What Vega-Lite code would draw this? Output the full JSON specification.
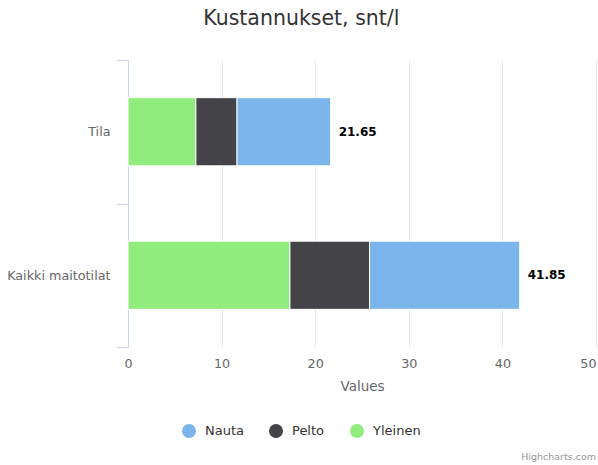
{
  "$schema": "https://vega.github.io/schema/vega-lite/v6.json",
  "autosize": "none",
  "width": 468,
  "height": 287,
  "padding": {"left": 128, "top": 60, "right": 2, "bottom": 118},
  "background": "#ffffff",
  "title": {
    "text": "Kustannukset, snt/l",
    "font": "DejaVu Sans",
    "fontSize": 20.5,
    "fontWeight": "normal",
    "color": "#333333",
    "anchor": "middle",
    "frame": "bounds",
    "offset": 25
  },
  "config": {
    "view": {"stroke": null},
    "font": "DejaVu Sans"
  },
  "data": {
    "values": [
      {"category": "Tila", "series": "Yleinen", "value": 7.25},
      {"category": "Tila", "series": "Pelto", "value": 4.4},
      {"category": "Tila", "series": "Nauta", "value": 10.0},
      {"category": "Kaikki maitotilat", "series": "Yleinen", "value": 17.3},
      {"category": "Kaikki maitotilat", "series": "Pelto", "value": 8.5},
      {"category": "Kaikki maitotilat", "series": "Nauta", "value": 16.05}
    ]
  },
  "encoding": {
    "y": {
      "field": "category",
      "type": "nominal",
      "sort": ["Tila", "Kaikki maitotilat"],
      "scale": {"paddingInner": 0, "paddingOuter": 0},
      "axis": {
        "title": null,
        "domainColor": "#ccd6eb",
        "tickColor": "#ccd6eb",
        "tickSize": 11,
        "tickBand": "extent",
        "labelColor": "#666666",
        "labelFontSize": 12.75,
        "labelPadding": 7,
        "grid": false
      }
    }
  },
  "layer": [
    {
      "mark": {"type": "bar", "stroke": "#ffffff", "strokeWidth": 1, "height": {"band": 0.475}},
      "encoding": {
        "x": {
          "field": "value",
          "type": "quantitative",
          "aggregate": "sum",
          "stack": "zero",
          "scale": {"domain": [0, 50], "nice": false},
          "axis": {
            "title": "Values",
            "titleColor": "#666666",
            "titleFontSize": 13.5,
            "titleFontWeight": "normal",
            "titlePadding": 10,
            "values": [0, 10, 20, 30, 40, 50],
            "labelFlush": false,
            "labelAlign": {"condition": {"test": "datum.value == 50", "value": "right"}, "value": "center"},
            "domain": false,
            "ticks": false,
            "gridColor": "#e6e6e6",
            "labelColor": "#666666",
            "labelFontSize": 12.75,
            "labelPadding": 10
          }
        },
        "color": {
          "field": "series",
          "type": "nominal",
          "scale": {
            "domain": ["Nauta", "Pelto", "Yleinen"],
            "range": ["#7cb5ec", "#434348", "#90ed7d"]
          },
          "legend": {
            "title": null,
            "orient": "none",
            "direction": "horizontal",
            "legendX": 54,
            "legendY": 364,
            "symbolType": "circle",
            "symbolSize": 196,
            "symbolStrokeWidth": 0,
            "labelFontSize": 13,
            "labelColor": "#333333",
            "columnPadding": 25,
            "labelOffset": 9
          }
        },
        "order": {"field": "series", "sort": "descending"}
      }
    },
    {
      "mark": {"type": "text", "align": "left", "dx": 8, "fontWeight": "bold", "fontSize": 12, "color": "#000000"},
      "encoding": {
        "x": {"field": "value", "type": "quantitative", "aggregate": "sum"},
        "text": {"field": "value", "type": "quantitative", "aggregate": "sum", "format": ".2f"}
      }
    },
    {
      "data": {"values": [{"credit": "Highcharts.com", "category": "Kaikki maitotilat"}]},
      "mark": {"type": "text", "align": "right", "baseline": "middle", "dy": 182, "fontSize": 9.5, "color": "#999999"},
      "encoding": {
        "x": {"datum": 50},
        "text": {"field": "credit"}
      }
    }
  ]
}
